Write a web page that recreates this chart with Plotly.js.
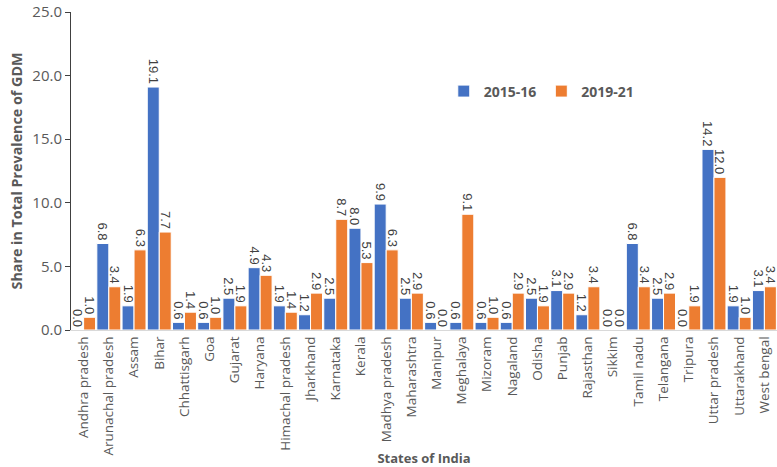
<!DOCTYPE html>
<html>
<head>
<meta charset="utf-8">
<script src="https://cdn.plot.ly/plotly-3.0.1.min.js"></script>
<style>html,body{margin:0;padding:0;background:#fff;}#chart{width:777px;height:467px;}</style>
</head>
<body>
<div id="chart"></div>
<script>
var states = ["Andhra pradesh","Arunachal pradesh","Assam","Bihar","Chhattisgarh","Goa","Gujarat","Haryana","Himachal pradesh","Jharkhand","Karnataka","Kerala","Madhya pradesh","Maharashtra","Manipur","Meghalaya","Mizoram","Nagaland","Odisha","Punjab","Rajasthan","Sikkim","Tamil nadu","Telangana","Tripura","Uttar pradesh","Uttarakhand","West bengal"];
var v2015 = [0.0,6.8,1.9,19.1,0.6,0.6,2.5,4.9,1.9,1.2,2.5,8.0,9.9,2.5,0.6,0.6,0.6,0.6,2.5,3.1,1.2,0.0,6.8,2.5,0.0,14.2,1.9,3.1];
var v2019 = [1.0,3.4,6.3,7.7,1.4,1.0,1.9,4.3,1.4,2.9,8.7,5.3,6.3,2.9,0.0,9.1,1.0,2.9,1.9,2.9,3.4,0.0,3.4,2.9,1.9,12.0,1.0,3.4];
var yTicks = [0,5,10,15,20,25];

var labelFont = {family:"Liberation Sans Narrow, Liberation Sans, Arial, sans-serif", size:13, color:"#404040"};
function mk(name, vals, color){
  return {
    type:"bar", name:name, x:states, y:vals,
    marker:{color:color, line:{color:"#ffffff", width:1}},
    text:vals.map(function(v){return v.toFixed(1);}),
    textposition:"outside", textangle:90, constraintext:"none",
    textfont:labelFont, cliponaxis:false, hoverinfo:"x+y"
  };
}
var data = [mk("2015-16", v2015, "#4472C4"), mk("2019-21", v2019, "#ED7D31")];
var layout = {
  width:777, height:467,
  margin:{l:71, r:0, t:12, b:137},
  paper_bgcolor:"#fff", plot_bgcolor:"#fff",
  barmode:"group", bargap:0.05, bargroupgap:0,
  font:{family:"Open Sans, sans-serif", color:"#595959"},
  showlegend:true,
  legend:{orientation:"h", x:0.528, y:0.75, xanchor:"left", yanchor:"middle",
    font:{family:"Open Sans, sans-serif", size:14, color:"#595959", weight:"bold"},
    itemwidth:30, traceorder:"normal", bgcolor:"rgba(0,0,0,0)"},
  xaxis:{type:"category", tickangle:-90, ticks:"", showline:true, linecolor:"#d9d9d9", linewidth:1,
    tickfont:{family:"Open Sans, sans-serif", size:13.5, color:"#595959"},
    automargin:false,
    title:{text:"<b>States of India</b>", font:{family:"Open Sans, sans-serif", size:13, color:"#595959"}, standoff:13}},
  yaxis:{range:[0,25], tickvals:yTicks, ticktext:yTicks.map(function(v){return v.toFixed(1);}),
    showgrid:false, zeroline:false, showline:true, linecolor:"#404040", linewidth:1,
    ticks:"outside", ticklen:5, tickcolor:"#404040", ticklabeloverflow:"allow",
    tickfont:{family:"Open Sans, sans-serif", size:15, color:"#595959"},
    automargin:false,
    title:{text:"<b>Share in Total Prevalence of GDM</b>", font:{family:"Open Sans, sans-serif", size:14.3, color:"#595959"}, standoff:6}}
};
Plotly.newPlot("chart", data, layout, {displayModeBar:false, staticPlot:true});
</script>
</body>
</html>
